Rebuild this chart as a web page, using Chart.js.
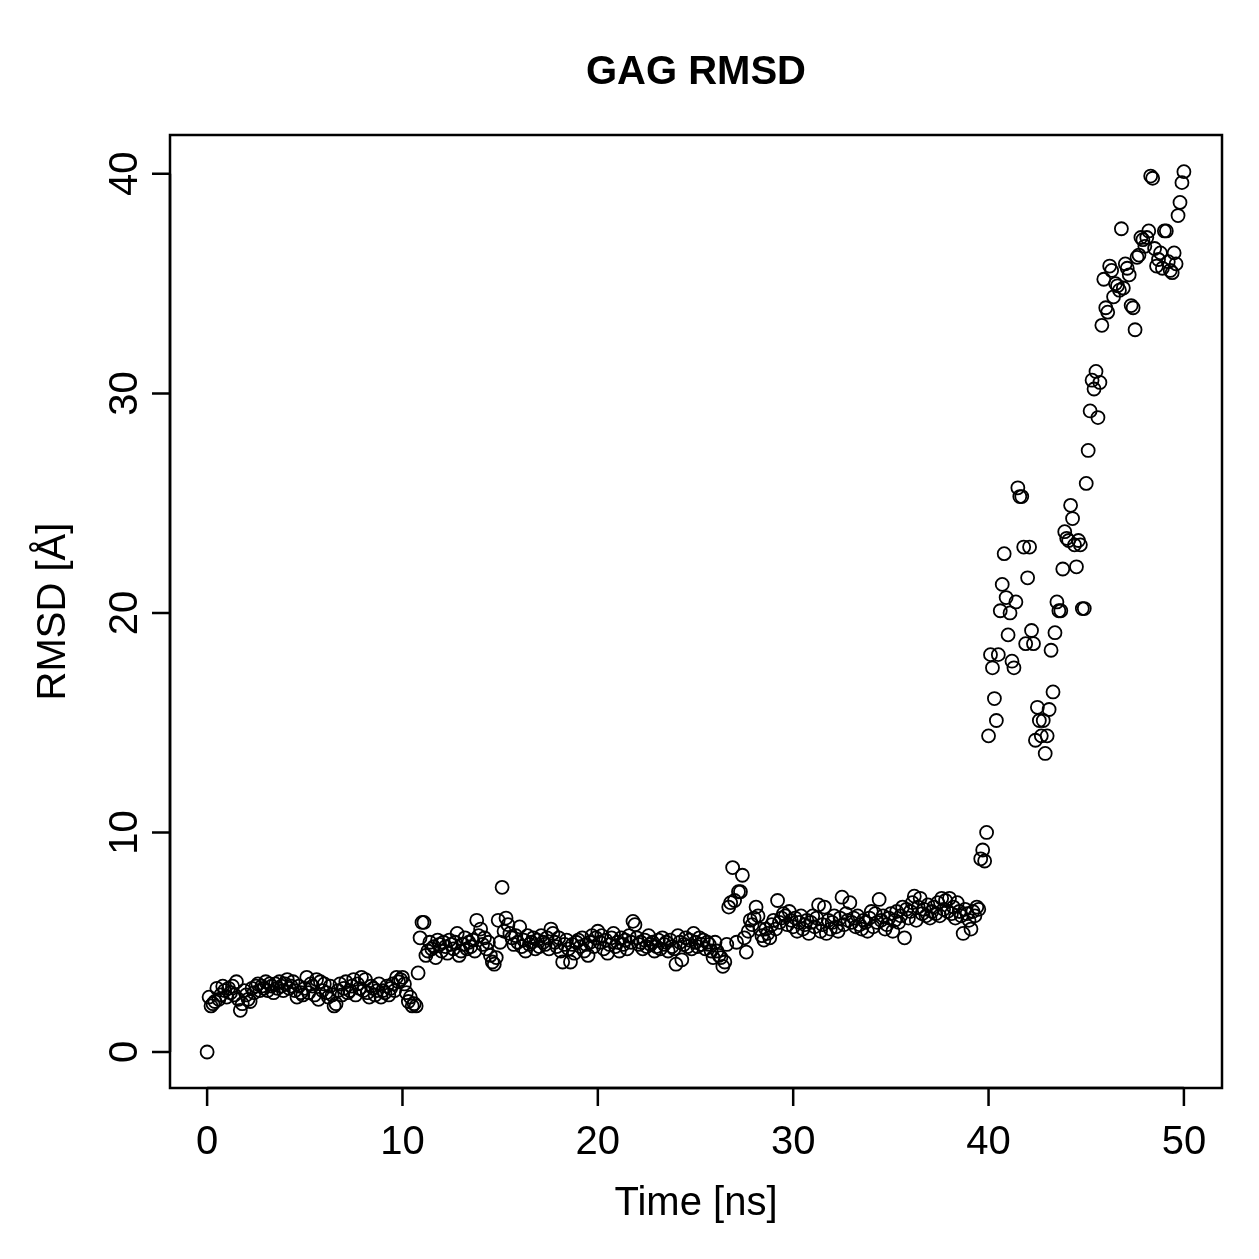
<!DOCTYPE html>
<html><head><meta charset="utf-8">
<script src="https://cdn.jsdelivr.net/npm/chart.js@4.4.1/dist/chart.umd.min.js"></script>
<style>html,body{margin:0;padding:0;background:#fff;} #wrap{width:1259px;height:1259px;position:relative}</style>
</head><body><div id="wrap"><canvas id="c" width="1259" height="1259"></canvas></div>
<script>
const chartTitle = "GAG RMSD";
const xAxisTitle = "Time [ns]";
const yAxisTitle = "RMSD [Å]";
const xTicks = [0, 10, 20, 30, 40, 50];
const yTicks = [0, 10, 20, 30, 40];
const timeStepNs = 0.1;

// RMSD values, one per 0.1 ns
const rmsd_00_10 = [
  0.0, 2.5, 2.1, 2.2, 2.3, 2.9, 2.4, 2.6, 3.0, 2.8,
  2.5, 2.9, 2.7, 3.0, 2.6, 3.2, 2.4, 1.9, 2.2, 2.8,
  2.6, 2.4, 2.3, 2.9, 2.7, 3.0, 3.1, 2.8, 3.0, 2.9,
  3.2, 2.8, 3.1, 3.0, 2.7, 3.1, 2.9, 3.2, 3.0, 2.8,
  3.1, 3.3, 2.9, 3.0, 3.2, 2.8, 2.5, 3.0, 2.7, 2.6,
  2.9, 3.4, 2.7, 3.1, 3.0, 2.6, 3.3, 2.4, 3.2, 2.8,
  3.1, 2.7, 2.5, 3.0, 2.6, 2.1, 2.2, 2.8, 3.1, 2.6,
  2.9, 3.2, 2.7, 2.8, 3.0, 3.3, 2.6, 3.1, 2.9, 3.4,
  2.8, 3.3, 2.7, 2.5, 3.0, 2.9, 2.6, 2.8, 3.1, 2.5,
  2.8, 2.7, 3.0, 2.6, 2.9, 3.1, 2.8, 3.4, 3.2, 3.3
];
const rmsd_10_20 = [
  3.4, 3.1, 2.7, 2.3, 2.5, 2.1, 2.2, 2.1, 3.6, 5.2,
  5.9, 5.9, 4.4, 4.6, 5.0, 4.7, 4.8, 4.3, 5.1, 4.9,
  4.6, 5.0, 4.8, 4.5, 5.1, 4.9, 4.7, 5.0, 5.4, 4.4,
  4.6, 4.9, 5.2, 4.7, 5.0, 4.8, 5.1, 4.6, 6.0, 5.3,
  5.6, 4.9, 5.2, 4.7, 5.0, 4.4, 4.1, 4.0, 4.3, 6.0,
  5.0, 7.5, 5.5, 6.1, 5.8, 5.4, 5.2, 4.9, 5.3, 5.0,
  5.7, 4.8, 5.1, 4.6, 5.3, 4.9, 5.0, 5.2, 4.7, 5.1,
  4.8, 5.3, 5.0, 4.9, 5.2, 4.7, 5.6, 5.4, 5.0, 4.8,
  5.2, 4.6, 4.1, 4.9, 5.1, 4.7, 4.1, 4.9, 4.5, 5.0,
  5.1, 4.8, 5.2, 4.6, 4.9, 4.4, 5.0, 5.3, 4.8, 5.2
];
const rmsd_20_30 = [
  5.5, 5.0, 5.3, 4.7, 5.1, 4.5, 4.9, 5.2, 5.4, 4.8,
  5.0, 4.6, 5.2, 4.9, 5.1, 4.7, 5.3, 5.0, 5.95, 5.8,
  5.2, 4.9, 5.0, 4.7, 5.1, 4.8, 5.3, 4.9, 5.0, 4.6,
  4.8, 5.1, 4.7, 5.2, 4.9, 5.0, 4.6, 5.1, 4.8, 4.7,
  4.0, 5.3, 5.0, 4.2, 4.9, 5.2, 4.8, 5.1, 4.7, 5.4,
  5.0, 4.8, 5.2, 4.9, 5.1, 4.7, 5.0, 4.9, 4.6, 4.3,
  5.0, 4.6, 4.4, 4.3, 3.9, 4.1, 4.9, 6.6, 6.8, 8.4,
  6.9, 5.0, 7.3, 7.3, 8.05, 5.2, 4.55, 5.5, 6.0, 5.8,
  6.1, 6.6, 6.2, 5.6, 5.3, 5.1, 5.6, 5.4, 5.2, 5.8,
  6.0, 5.6, 6.9, 5.9, 6.1, 6.3, 6.2, 5.8, 6.4, 6.0
];
const rmsd_30_40 = [
  5.7, 6.1, 5.5, 5.9, 6.2, 5.6, 5.8, 6.0, 5.4, 5.9,
  6.2, 5.7, 6.1, 6.7, 5.5, 5.8, 6.6, 5.4, 6.0, 5.6,
  5.9, 6.2, 5.7, 5.5, 6.1, 7.05, 5.8, 6.3, 6.0, 6.8,
  5.9, 6.1, 5.7, 6.2, 5.8, 5.6, 6.0, 5.9, 5.5, 6.1,
  6.4, 5.7, 6.3, 5.9, 6.95, 6.0, 6.2, 5.6, 5.8, 6.1,
  6.3, 5.5, 6.0, 6.4, 5.9, 6.2, 6.6, 5.2, 6.5, 6.1,
  6.4, 6.8, 7.1, 6.0, 6.6, 7.0, 6.3, 6.5, 6.2, 6.7,
  6.1, 6.4, 6.6, 6.3, 6.8, 6.2, 7.0, 6.5, 6.9, 6.4,
  7.0, 6.3, 6.6, 6.1, 6.8, 6.4, 6.2, 5.4, 6.5, 6.3,
  6.0, 5.6, 6.4, 6.2, 6.6, 6.5, 8.8, 9.2, 8.7, 10.0
];
const rmsd_40_50 = [
  14.4, 18.1, 17.5, 16.1, 15.1, 18.1, 20.1, 21.3, 22.7, 20.7,
  19.0, 20.0, 17.8, 17.5, 20.5, 25.7, 25.3, 25.3, 23.0, 18.6,
  21.6, 23.0, 19.2, 18.6, 14.2, 15.7, 15.1, 14.4, 15.1, 13.6,
  14.4, 15.6, 18.3, 16.4, 19.1, 20.5, 20.1, 20.1, 22.0, 23.7,
  23.4, 23.3, 24.9, 24.3, 23.1, 22.1, 23.3, 23.1, 20.2, 20.2,
  25.9, 27.4, 29.2, 30.6, 30.2, 31.0, 28.9, 30.5, 33.1, 35.2,
  33.9, 33.7, 35.8, 35.6, 34.4, 35.0, 34.9, 34.7, 37.5, 34.8,
  35.9, 35.7, 35.4, 34.0, 33.9, 32.9, 36.2, 36.3, 37.1, 37.0,
  36.7, 37.1, 37.4, 39.9, 39.8, 36.6, 35.8, 36.1, 36.4, 35.7,
  37.4, 37.4, 36.0, 35.6, 35.5, 36.4, 35.9, 38.1, 38.7, 39.6,
  40.1
];

const rmsdAll = [].concat(rmsd_00_10, rmsd_10_20, rmsd_20_30, rmsd_30_40, rmsd_40_50);
const points = rmsdAll.map((v, i) => ({ x: Math.round(i * timeStepNs * 10) / 10, y: v }));

const FONT = '"Liberation Sans", Arial, Helvetica, sans-serif';

const rStyleAxes = {
  id: 'rStyleAxes',
  afterDraw(chart) {
    const ctx = chart.ctx;
    const ca = chart.chartArea;
    const xs = chart.scales.x, ys = chart.scales.y;
    ctx.save();
    ctx.strokeStyle = '#000';
    ctx.fillStyle = '#000';
    ctx.lineWidth = 2.5;
    ctx.strokeRect(ca.left, ca.top, ca.right - ca.left, ca.bottom - ca.top);
    // x axis
    ctx.beginPath();
    ctx.moveTo(xs.getPixelForValue(xTicks[0]), ca.bottom);
    ctx.lineTo(xs.getPixelForValue(xTicks[xTicks.length - 1]), ca.bottom);
    xTicks.forEach(t => {
      const px = xs.getPixelForValue(t);
      ctx.moveTo(px, ca.bottom);
      ctx.lineTo(px, ca.bottom + 18);
    });
    ctx.stroke();
    ctx.font = '40px ' + FONT;
    ctx.textAlign = 'center';
    ctx.textBaseline = 'alphabetic';
    xTicks.forEach(t => {
      ctx.fillText(String(t), xs.getPixelForValue(t), 1154);
    });
    // y axis
    ctx.beginPath();
    ctx.moveTo(ca.left, ys.getPixelForValue(yTicks[0]));
    ctx.lineTo(ca.left, ys.getPixelForValue(yTicks[yTicks.length - 1]));
    yTicks.forEach(t => {
      const py = ys.getPixelForValue(t);
      ctx.moveTo(ca.left, py);
      ctx.lineTo(ca.left - 18, py);
    });
    ctx.stroke();
    yTicks.forEach(t => {
      const py = ys.getPixelForValue(t);
      ctx.save();
      ctx.translate(137, py);
      ctx.rotate(-Math.PI / 2);
      ctx.fillText(String(t), 0, 0);
      ctx.restore();
    });
    // titles
    ctx.fillText(xAxisTitle, (ca.left + ca.right) / 2, 1215);
    ctx.save();
    ctx.translate(65, (ca.top + ca.bottom) / 2);
    ctx.rotate(-Math.PI / 2);
    ctx.fillText(yAxisTitle, 0, 0);
    ctx.restore();
    ctx.font = 'bold 40px ' + FONT;
    ctx.fillText(chartTitle, (ca.left + ca.right) / 2, 84);
    ctx.restore();
  }
};

new Chart(document.getElementById('c'), {
  type: 'scatter',
  data: {
    datasets: [{
      data: points,
      showLine: false,
      pointStyle: 'circle',
      pointRadius: 6.5,
      pointHoverRadius: 6.5,
      borderColor: '#000',
      backgroundColor: 'rgba(0,0,0,0)',
      borderWidth: 1.8
    }]
  },
  options: {
    responsive: false,
    animation: false,
    devicePixelRatio: 1,
    layout: { padding: { left: 170, top: 135, right: 37, bottom: 171 } },
    scales: {
      x: { type: 'linear', display: false, min: -1.9, max: 51.95 },
      y: { type: 'linear', display: false, min: -1.64, max: 41.77 }
    },
    plugins: { legend: { display: false }, tooltip: { enabled: false }, title: { display: false } },
    events: []
  },
  plugins: [rStyleAxes]
});
</script></body></html>
